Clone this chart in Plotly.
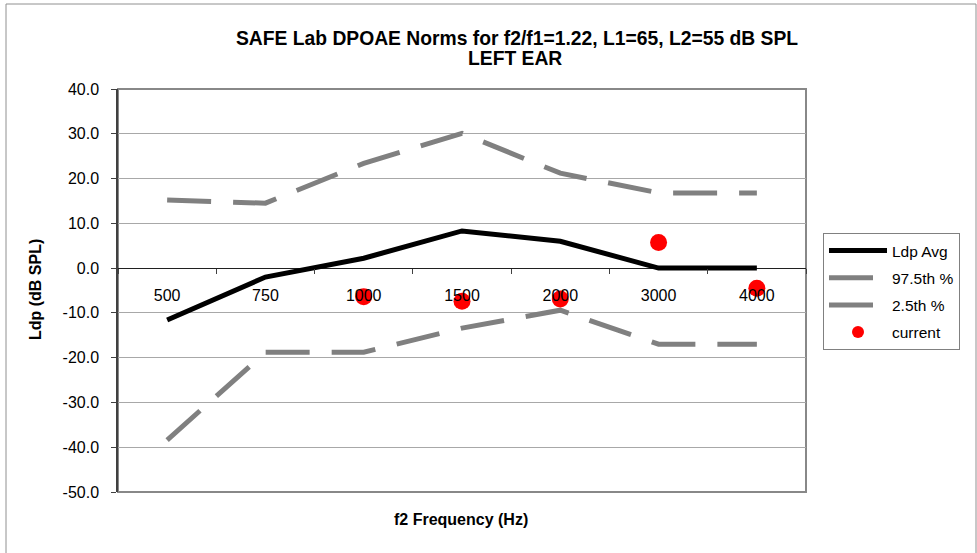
import plotly.graph_objects as go

freqs = ["500", "750", "1000", "1500", "2000", "3000", "4000"]
ldp_avg = [-11.6, -2.0, 2.2, 8.3, 6.0, 0.0, 0.0]
p975 = [15.2, 14.5, 23.4, 30.1, 21.2, 16.8, 16.8]
p025 = [-38.4, -18.8, -18.8, -13.4, -9.4, -17.0, -17.0]
current_f = ["1000", "1500", "2000", "3000", "4000"]
current = [-6.4, -7.4, -6.9, 5.7, -4.5]
y_ticks = [40, 30, 20, 10, 0, -10, -20, -30, -40, -50]
y_tick_text = ["40.0", "30.0", "20.0", "10.0", "0.0", "-10.0", "-20.0", "-30.0", "-40.0", "-50.0"]

FONT = "Liberation Sans, Arial, sans-serif"
L, R, T, B = 118, 171, 89, 61
W, H = 977, 553
pw, ph = W - L - R, H - T - B

def px(x):
    return (x - L) / pw

def py(y):
    return (H - B - y) / ph

fig = go.Figure()
fig.add_trace(go.Scatter(x=freqs, y=ldp_avg, name="Ldp Avg", mode="lines",
                         line=dict(color="black", width=5), legendgroup="a"))
fig.add_trace(go.Scatter(x=freqs, y=p975, name="97.5th %", mode="lines",
                         line=dict(color="#808080", width=5, dash="44px,22px"), legendgroup="b"))
fig.add_trace(go.Scatter(x=freqs, y=p025, name="2.5th %", mode="lines",
                         line=dict(color="#808080", width=5, dash="44px,22px"), legendgroup="c"))
fig.add_trace(go.Scatter(x=current_f, y=current, name="current", mode="markers",
                         marker=dict(color="#ff0000", size=17), legendgroup="d"))

fig.update_layout(
    width=W, height=H,
    margin=dict(l=L, r=R, t=T, b=B),
    paper_bgcolor="white", plot_bgcolor="white",
    font=dict(family=FONT, size=16, color="black"),
    showlegend=True,
    legend=dict(x=px(823), y=py(233), xanchor="left", yanchor="top",
                bordercolor="#808080", borderwidth=1, bgcolor="white",
                font=dict(size=15.5), tracegroupgap=4, traceorder="grouped",
                itemsizing="constant", itemwidth=58),
    xaxis=dict(type="category", categoryorder="array", categoryarray=freqs,
               range=[-0.5, 6.5], anchor="free", position=50 / 90,
               tickson="boundaries", ticks="outside", ticklen=5, tickcolor="#404040",
               showline=False, showgrid=False, zeroline=False,
               ticklabelstandoff=16, tickfont=dict(size=16)),
    yaxis=dict(range=[-50, 40], tickmode="array", tickvals=y_ticks, ticktext=y_tick_text,
               ticks="outside", ticklen=5, tickcolor="#404040",
               showline=True, linecolor="#404040", linewidth=1.5,
               showgrid=True, gridcolor="#a8a8a8", gridwidth=1,
               zeroline=True, zerolinecolor="#202020", zerolinewidth=1.2,
               ticklabelstandoff=9, tickfont=dict(size=16)),
    shapes=[
        dict(type="rect", xref="paper", yref="paper", x0=0, x1=1, y0=0, y1=1,
             line=dict(color="#888888", width=2), layer="below"),
        dict(type="rect", xref="paper", yref="paper", x0=px(6), x1=px(976),
             y0=py(570), y1=py(4), line=dict(color="#909090", width=1), layer="below"),
    ],
    annotations=[
        dict(text="<b>SAFE Lab DPOAE Norms for f2/f1=1.22, L1=65, L2=55 dB SPL</b>",
             xref="paper", yref="paper", x=px(517), y=py(38), xanchor="center", yanchor="middle",
             showarrow=False, font=dict(size=19.3)),
        dict(text="<b>LEFT EAR</b>",
             xref="paper", yref="paper", x=px(515), y=py(58), xanchor="center", yanchor="middle",
             showarrow=False, font=dict(size=19.3)),
        dict(text="<b>f2 Frequency (Hz)</b>", xref="paper", yref="paper",
             x=px(461), y=py(519), xanchor="center", yanchor="middle",
             showarrow=False, font=dict(size=16)),
        dict(text="<b>Ldp (dB SPL)</b>", xref="paper", yref="paper", textangle=-90,
             x=px(35), y=py(290), xanchor="center", yanchor="middle",
             showarrow=False, font=dict(size=16)),
    ],
)

fig.write_html("out.html")
